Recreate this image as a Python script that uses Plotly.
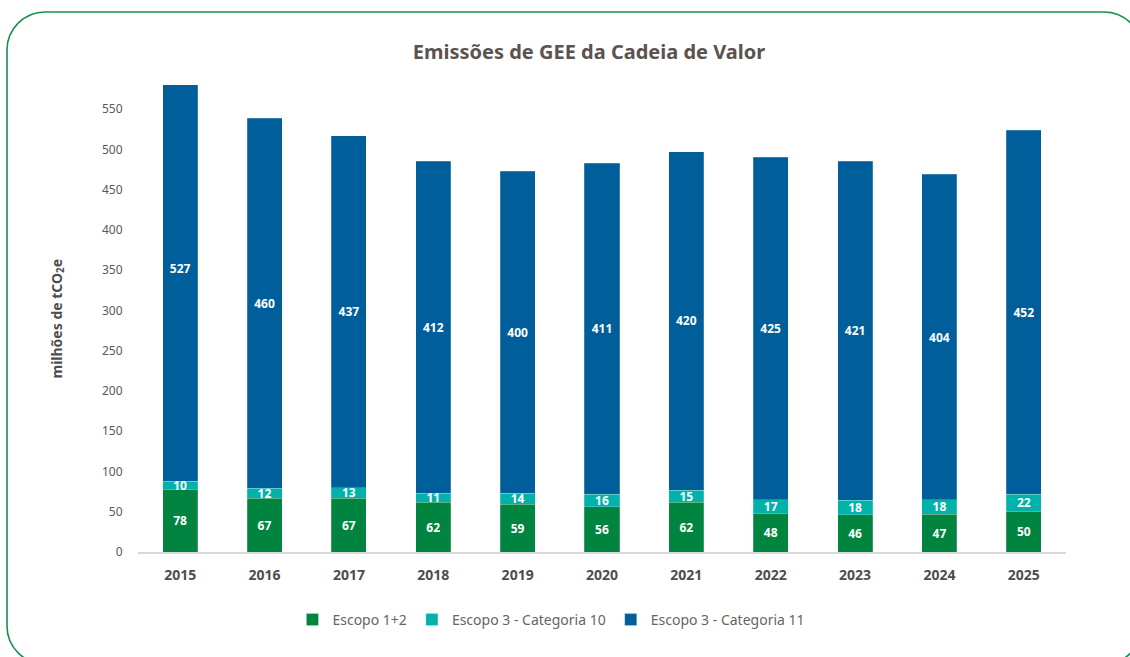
import plotly.graph_objects as go

# Emissões da cadeia de valor (milhões de tCO2e)
anos = ["2015", "2016", "2017", "2018", "2019", "2020", "2021", "2022", "2023", "2024", "2025"]
escopo_1_2 = [78, 67, 67, 62, 59, 56, 62, 48, 46, 47, 50]
escopo_3_cat10 = [10, 12, 13, 11, 14, 16, 15, 17, 18, 18, 22]
escopo_3_cat11 = [527, 460, 437, 412, 400, 411, 420, 425, 421, 404, 452]
y_ticks = [0, 50, 100, 150, 200, 250, 300, 350, 400, 450, 500, 550]

W, H = 1130, 657
ML, MR, MT, MB = 138, 64, 85, 105
PW, PH = W - ML - MR, H - MT - MB

FONT = "Noto Sans"
VERDE = "#00843f"
TURQUESA = "#00b2a9"
AZUL = "#005f9b"

series = [
    ("Escopo 1+2", escopo_1_2, VERDE),
    ("Escopo 3 - Categoria 10", escopo_3_cat10, TURQUESA),
    ("Escopo 3 - Categoria 11", escopo_3_cat11, AZUL),
]

fig = go.Figure()
for nome, valores, cor in series:
    fig.add_trace(go.Bar(
        name=nome, x=anos, y=valores,
        marker=dict(color=cor, line=dict(color="rgba(255,255,255,0.35)", width=0.6)),
        text=valores, texttemplate="%{text}",
        textposition="inside", insidetextanchor="middle",
        textangle=0, constraintext="none",
        textfont=dict(family=FONT, size=12, color="white", weight="bold"),
    ))


def px(x, y):
    return (x - ML) / PW, (H - MB - y) / PH


def moldura(x0, y0, x1, y1, r):
    k = 0.5523 * r

    def p(x, y):
        a, b = px(x, y)
        return f"{a:.5f},{b:.5f}"

    pts = [
        f"M{p(x0 + r, y0)}",
        f"L{p(x1 - r, y0)}",
        f"C{p(x1 - r + k, y0)} {p(x1, y0 + r - k)} {p(x1, y0 + r)}",
        f"L{p(x1, y1 - r)}",
        f"C{p(x1, y1 - r + k)} {p(x1 - r + k, y1)} {p(x1 - r, y1)}",
        f"L{p(x0 + r, y1)}",
        f"C{p(x0 + r - k, y1)} {p(x0, y1 - r + k)} {p(x0, y1 - r)}",
        f"L{p(x0, y0 + r)}",
        f"C{p(x0, y0 + r - k)} {p(x0 + r - k, y0)} {p(x0 + r, y0)} Z",
    ]
    return " ".join(pts)


fig.add_shape(type="path", xref="paper", yref="paper",
              path=moldura(7, 12, 1142, 664, 38),
              line=dict(color="#16924f", width=1.6), layer="below")

yt_x, _ = px(57, 0)
fig.add_annotation(
    text="milhões de tCO<sub>2</sub>e", xref="paper", yref="paper",
    x=yt_x, y=0.5, xanchor="center", yanchor="middle",
    textangle=-90, showarrow=False,
    font=dict(family=FONT, size=14, color="#4d4d4d", weight="bold"),
)

fig.update_layout(
    width=W, height=H,
    margin=dict(l=ML, r=MR, t=MT, b=MB),
    paper_bgcolor="white", plot_bgcolor="white",
    barmode="stack", bargap=0.585,
    title=dict(text="Emissões de GEE da Cadeia de Valor",
               x=589 / W, xanchor="center", y=1 - 52 / H, yanchor="middle",
               font=dict(family=FONT, size=20, color="#5b5350", weight="bold")),
    xaxis=dict(type="category", showgrid=False, showline=True,
               linecolor="#d9d9d9", linewidth=1.5,
               ticks="outside", ticklen=9, tickcolor="rgba(0,0,0,0)",
               tickfont=dict(family=FONT, size=14, color="#4d4d4d", weight="bold")),
    yaxis=dict(range=[0, 580], tickvals=y_ticks, showgrid=False, zeroline=False,
               showline=False, ticks="outside", ticklen=12,
               tickcolor="rgba(0,0,0,0)",
               tickfont=dict(family=FONT, size=12, color="#595959")),
    legend=dict(orientation="h", xref="container", yref="container",
                x=0.488, xanchor="center", y=1 - 620 / H, yanchor="middle",
                font=dict(family=FONT, size=14, color="#6b6461"),
                itemwidth=30, traceorder="normal"),
    showlegend=True,
)

fig.write_html("out.html")
